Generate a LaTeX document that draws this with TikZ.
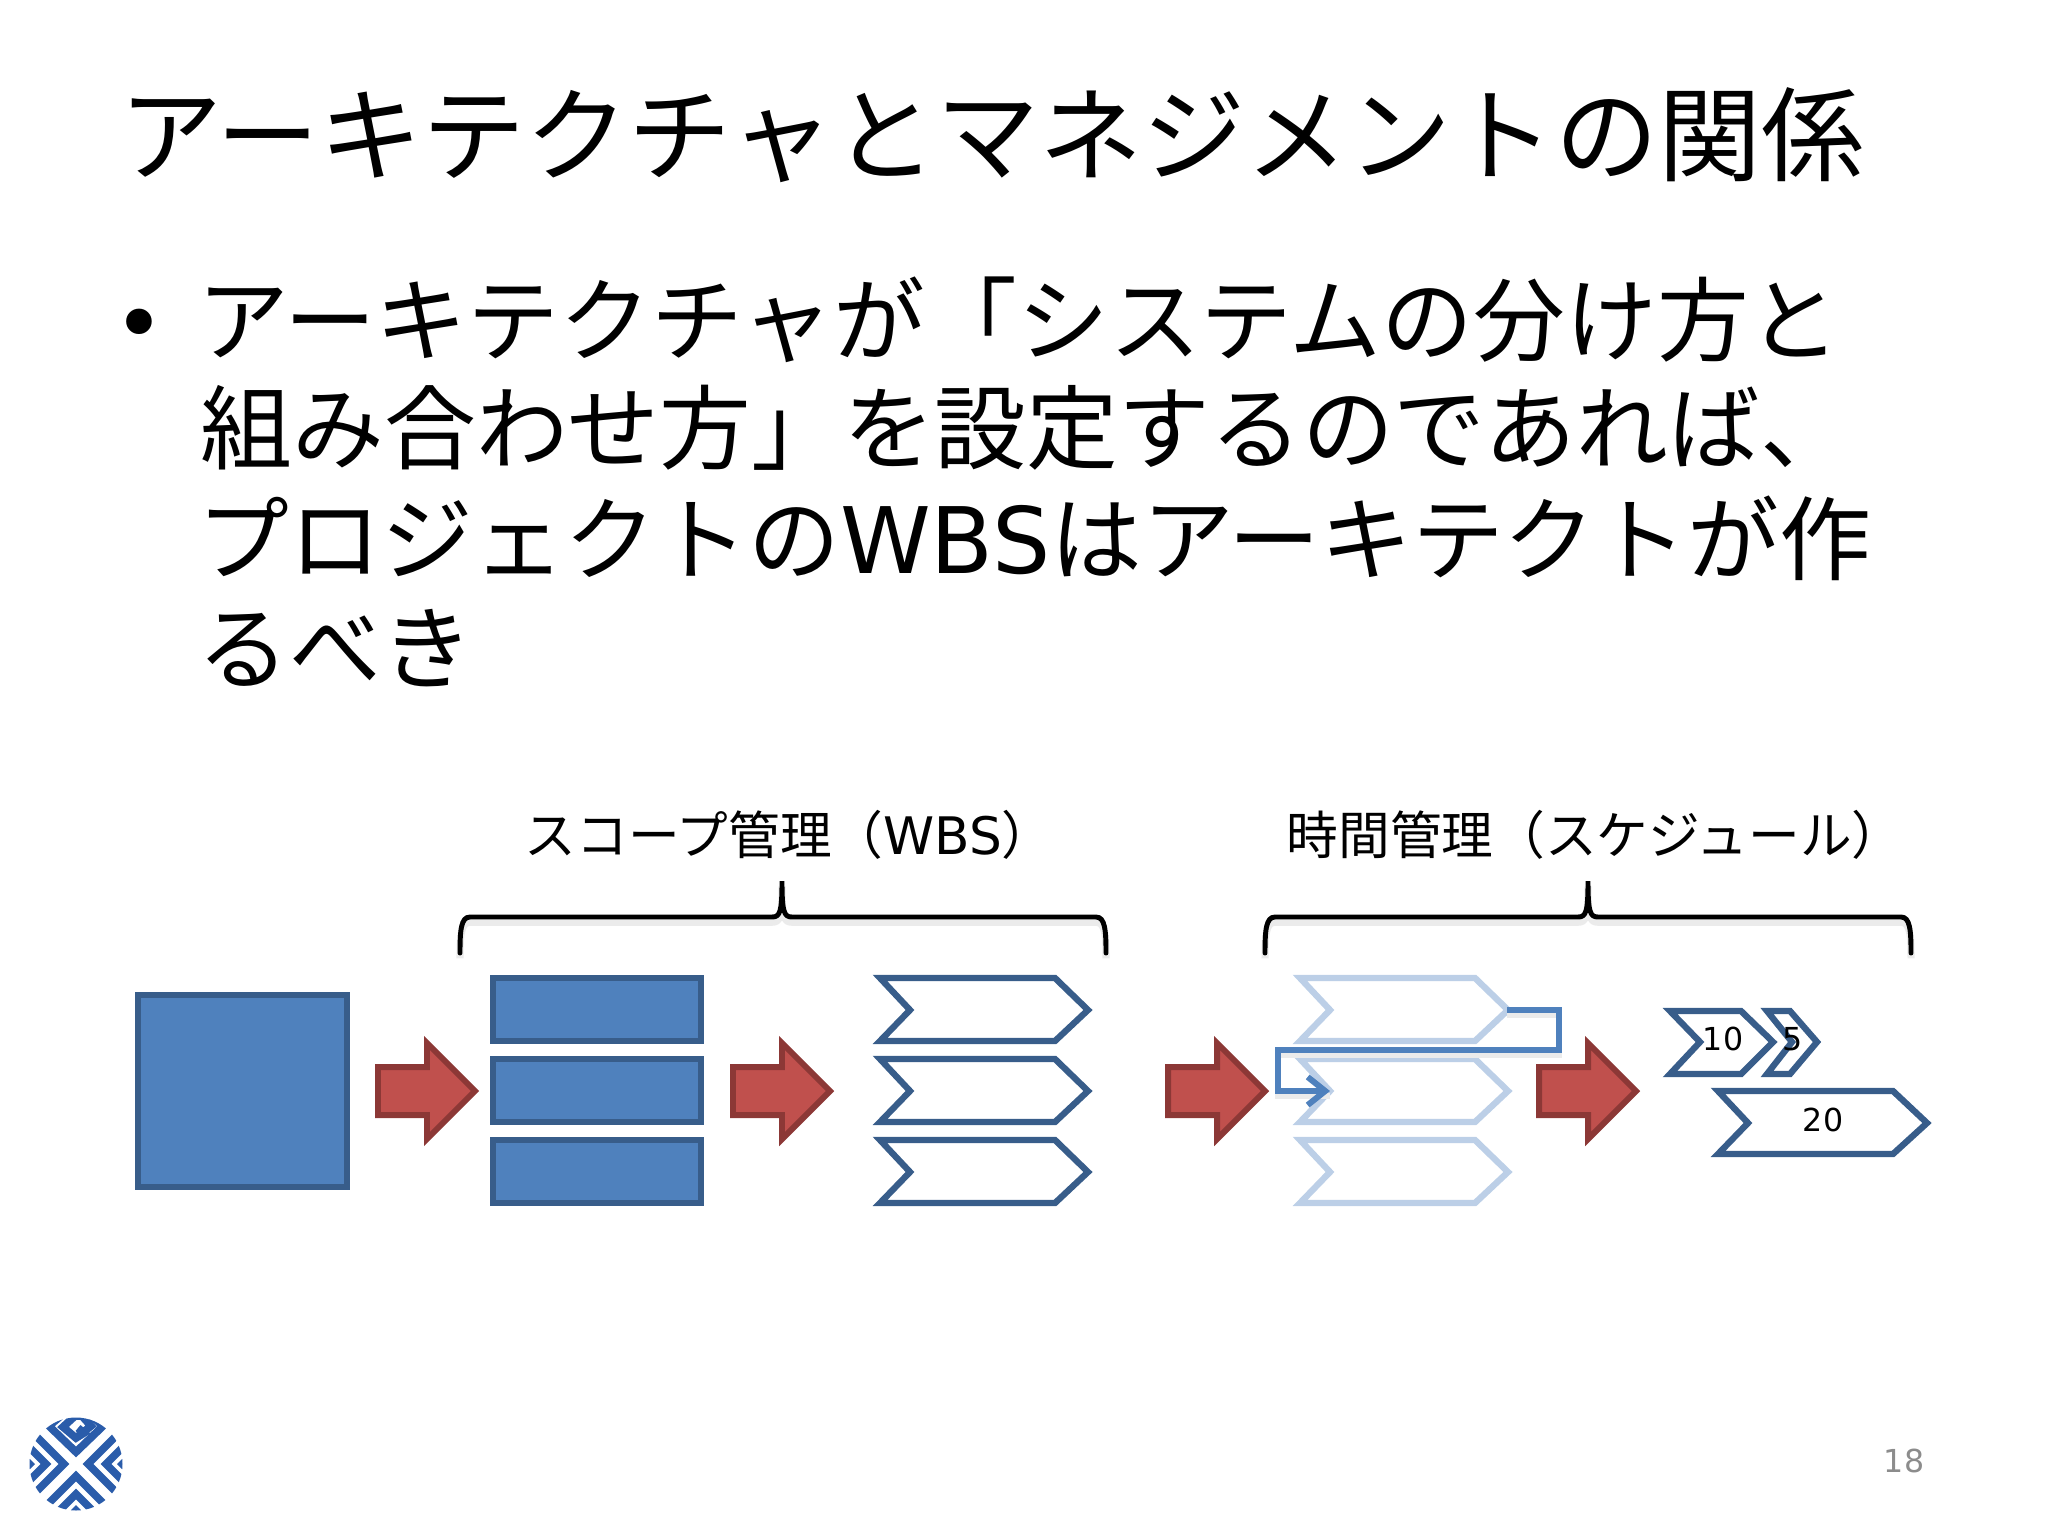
\documentclass[tikz,border=0pt]{standalone}
\usepackage{fontspec}
\setmainfont{Noto Sans CJK JP}
\newfontfamily\latinfont{DejaVu Sans}
\usetikzlibrary{arrows.meta}
\definecolor{boxblue}{HTML}{4F81BD}
\definecolor{boxedge}{HTML}{385D8A}
\definecolor{fadeedge}{HTML}{BCCFE7}
\definecolor{stepred}{HTML}{C0504D}
\definecolor{stepedge}{HTML}{8C3836}
\definecolor{logoblue}{HTML}{2A5CAA}
\tikzset{
  titletext/.style={anchor=west,inner sep=0pt,font=\fontsize{29.3}{30}\selectfont},
  bodytext/.style={anchor=west,inner sep=0pt,font=\fontsize{26.1}{27}\selectfont},
  headtext/.style={anchor=west,inner sep=0pt,font=\fontsize{14.7}{15}\selectfont},
  steptext/.style={inner sep=0pt,font=\fontsize{9}{9}\selectfont\latinfont},
  boxshape/.style={draw=boxedge,fill=boxblue,line width=1.7pt},
  chevshape/.style={draw=boxedge,fill=white,line width=1.8pt},
  fadeshape/.style={draw=fadeedge,fill=white,line width=1.8pt},
  stepshape/.style={draw=stepedge,fill=stepred,line width=1.7pt},
  braceline/.style={draw=black,line width=1.4pt,line cap=round},
  linkline/.style={draw=boxblue,line width=1.7pt},
  logoline/.style={draw=logoblue,line width=2.2pt}
}
\begin{document}
\begin{tikzpicture}[x=.01cm,y=-.01cm]
\useasboundingbox (0,0) rectangle (2048,1536);

% title and bullet
\node[titletext] (title) at (119,135) {アーキテクチャとマネジメントの関係};
\node[inner sep=0pt,font=\fontsize{25}{26}\selectfont\latinfont] (bullet) at (139,332) {•};
\node[bodytext] (linea) at (197,320) {アーキテクチャが「システムの分け方と};
\node[bodytext] (lineb) at (200,428) {組み合わせ方」を設定するのであれば、};
\node[bodytext] (linec) at (197,538) {プロジェクトの{\latinfont WBS}はアーキテクトが作};
\node[bodytext] (lined) at (197,648) {るべき};

% headings
\node[headtext] (scope) at (524,835) {スコープ管理（{\latinfont WBS}）};
\node[headtext] (sched) at (1286,835) {時間管理（スケジュール）};

% braces
\foreach \l/\m/\r in {460/782/1106,1265/1588/1911}
  \draw[braceline,preaction={draw=black!8,line width=2pt,transform canvas={yshift=-1.5pt}}]
    (\l,953) .. controls (\l,930) and ({\l+1},917) .. ({\l+10},917) -- ({\m-10},917)
    .. controls ({\m-2},917) and (\m,912) .. (\m,881)
    .. controls (\m,912) and ({\m+2},917) .. ({\m+10},917) -- ({\r-10},917)
    .. controls ({\r-1},917) and (\r,930) .. (\r,953);

% whole
\draw[boxshape] (138,995) rectangle (347,1187);

% parts
\foreach \y in {978,1059,1140}
  \draw[boxshape] (493,\y) rectangle (701,{\y+63});

% chevrons, dark then faded
\foreach \x/\c in {0/chevshape,420/fadeshape}
  \foreach \y in {978,1059,1140}
    \draw[\c] ({880+\x},\y) -- ({1055+\x},\y) -- ({1088+\x},{\y+32}) -- ({1055+\x},{\y+63})
      -- ({880+\x},{\y+63}) -- ({910+\x},{\y+32}) -- cycle;

% link
\coordinate (fadetip) at (1507,1010);
\coordinate (fadenotch) at (1330,1091);
\draw[linkline,draw=black!8,transform canvas={yshift=-1.5pt}] (fadetip) -- (1559,1010) -- (1559,1050) -- (1278,1050) -- (1278,1091) -- (fadenotch);
\draw[linkline,-{Straight Barb[length=5pt,width=8pt]}] (fadetip) -- (1559,1010) -- (1559,1050) -- (1278,1050) -- (1278,1091) -- (fadenotch);

% red arrows
\foreach \x in {376,731,1166,1537}
  \draw[stepshape] ({\x+2},1067) -- ({\x+51},1067) -- ({\x+51},1043) -- ({\x+99},1091)
    -- ({\x+51},1139) -- ({\x+51},1115) -- ({\x+2},1115) -- cycle;

% schedule
\draw[chevshape] (1670,1011) -- (1741,1011) -- (1773,1042) -- (1741,1074) -- (1670,1074) -- (1700,1042) -- cycle;
\draw[chevshape] (1767,1011) -- (1790,1011) -- (1817,1042) -- (1790,1074) -- (1767,1074) -- (1792,1042) -- cycle;
\draw[chevshape] (1718,1091) -- (1893,1091) -- (1927,1123) -- (1893,1154) -- (1718,1154) -- (1748,1123) -- cycle;
\node[steptext] (ten) at (1723,1039) {10};
\node[steptext] (five) at (1793,1039) {5};
\node[steptext] (twenty) at (1823,1120) {20};

% page number
\node[inner sep=0pt,text=black!45,font=\fontsize{9}{9}\selectfont\latinfont] (page) at (1904,1461) {18};

% logo
\begin{scope}[shift={(76,1464)}]
  \clip (0,0) circle (46.5);
  \foreach \a in {0,180} {
    \begin{scope}[rotate=\a]
      \draw[logoline] (-60,-48) -- (-12,0) -- (-60,48);
      \draw[logoline] (-60,-30) -- (-30,0) -- (-60,30);
      \fill[logoblue] (-41,0) -- (-60,-19) -- (-60,19) -- cycle;
    \end{scope}
  }
  \draw[logoline] (-13,-50) -- (-27,-38) -- (0,-12) -- (27,-38) -- (13,-50);
  \draw[logoline] (2,-36) -- (8,-31) -- (0,-26) -- (-13,-37) -- (-1,-48) -- (6,-48) -- (15,-38) -- (0,-26);
  \draw[logoline] (-48,60) -- (0,12) -- (48,60);
  \draw[logoline] (-30,60) -- (0,30) -- (30,60);
  \fill[logoblue] (0,41) -- (-19,60) -- (19,60) -- cycle;
\end{scope}
\end{tikzpicture}
\end{document}
